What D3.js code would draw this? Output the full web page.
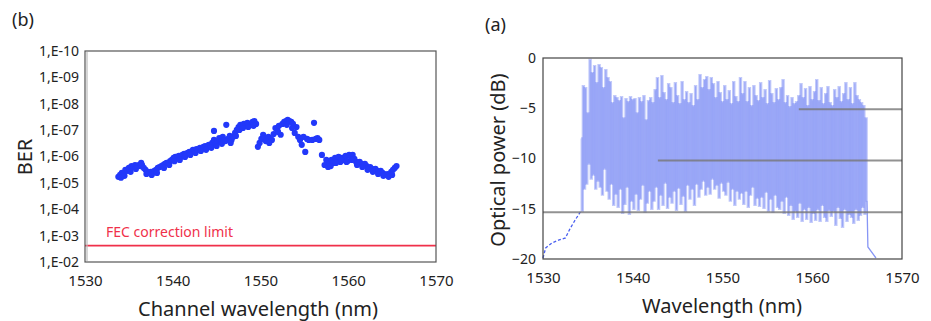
<!DOCTYPE html>
<html>
<head>
<meta charset="utf-8">
<script src="https://cdn.jsdelivr.net/npm/d3@7/dist/d3.min.js"></script>
<style>
  body { margin: 0; background: #fff; }
  text { font-family: "Noto Sans", "DejaVu Sans", sans-serif; fill: #222; }
</style>
</head>
<body>
<div id="chart"></div>
<script>
// ---- data: panel (b), BER vs channel wavelength ----
const wlTicks = [1530, 1540, 1550, 1560, 1570];
const berTicks = [1e-10, 1e-9, 1e-8, 1e-7, 1e-6, 1e-5, 1e-4, 1e-3, 1e-2];
const berTickLabels = ['1,E-10', '1,E-09', '1,E-08', '1,E-07', '1,E-06', '1,E-05', '1,E-04', '1,E-03', '1,E-02'];
const fecLimit = 2.4e-3;

const berPoints = [
  [1533.8, 5.9e-6], [1534.0, 5.0e-6], [1534.2, 4.2e-6], [1534.4, 4.6e-6], [1534.6, 3.2e-6], [1534.8, 3.5e-6],
  [1535.0, 2.7e-6], [1535.1, 3.2e-6], [1535.3, 2.3e-6], [1535.5, 2.5e-6], [1535.7, 2.1e-6], [1535.9, 2.3e-6],
  [1536.1, 2.1e-6], [1536.3, 2.3e-6], [1536.5, 2.1e-6], [1536.7, 2.7e-6], [1536.9, 3.2e-6], [1537.1, 3.8e-6],
  [1537.3, 4.2e-6], [1537.5, 3.8e-6], [1537.7, 4.2e-6], [1537.9, 3.5e-6], [1538.1, 3.2e-6], [1538.3, 2.7e-6],
  [1538.5, 2.5e-6], [1538.7, 2.3e-6], [1538.9, 2.1e-6], [1539.1, 1.9e-6], [1539.3, 1.75e-6], [1539.5, 1.75e-6],
  [1539.7, 1.5e-6], [1539.9, 1.35e-6], [1540.1, 1.13e-6], [1540.3, 1.04e-6], [1540.5, 1.04e-6], [1540.7, 9.5e-7],
  [1540.9, 1.04e-6], [1541.1, 8.7e-7], [1541.3, 7.9e-7], [1541.5, 7.9e-7], [1541.7, 7.3e-7], [1541.9, 6.7e-7],
  [1542.1, 6.7e-7], [1542.3, 5.6e-7], [1542.5, 6.2e-7], [1542.7, 5.2e-7], [1542.9, 5.6e-7], [1543.1, 4.7e-7],
  [1543.3, 5.2e-7], [1543.5, 4.3e-7], [1543.7, 4.0e-7], [1543.9, 4.7e-7], [1544.1, 3.6e-7], [1544.3, 4.0e-7],
  [1544.5, 3.05e-7], [1544.7, 2.35e-7], [1544.7, 1.07e-7], [1544.9, 3.3e-7], [1545.1, 2.6e-7], [1545.3, 2.0e-7],
  [1545.5, 2.8e-7], [1545.7, 1.8e-7], [1545.9, 2.35e-7], [1546.1, 6.3e-8], [1546.3, 2.15e-7], [1546.5, 1.66e-7],
  [1546.7, 2.35e-7], [1546.9, 1.8e-7], [1547.1, 1.28e-7], [1547.3, 9.8e-8], [1547.5, 7.6e-8], [1547.7, 6.3e-8],
  [1547.9, 7.6e-8], [1548.1, 5.8e-8], [1548.3, 6.9e-8], [1548.5, 5.3e-8], [1548.7, 5.8e-8], [1548.9, 6.3e-8],
  [1549.1, 4.9e-8], [1549.3, 4.5e-8], [1549.5, 5.8e-8], [1549.7, 4.3e-7], [1549.9, 3.05e-7], [1550.1, 2.15e-7],
  [1550.3, 1.5e-7], [1550.5, 2.0e-7], [1550.7, 2.35e-7], [1550.9, 1.8e-7], [1551.1, 2.15e-7], [1551.3, 2.35e-7],
  [1551.5, 1.4e-7], [1551.7, 8.3e-8], [1551.9, 9.8e-8], [1552.1, 6.9e-8], [1552.3, 1.5e-7], [1552.5, 5.8e-8],
  [1552.7, 4.9e-8], [1552.9, 4.5e-8], [1553.1, 4.1e-8], [1553.3, 4.5e-8], [1553.5, 4.9e-8], [1553.7, 5.8e-8],
  [1553.9, 1.28e-7], [1554.1, 7.6e-8], [1554.3, 1.8e-7], [1554.5, 2.35e-7], [1554.7, 3.6e-7], [1554.9, 1.8e-7],
  [1555.1, 6.7e-7], [1555.3, 2.15e-7], [1555.5, 2.35e-7], [1555.9, 2.35e-7], [1556.1, 5.3e-8], [1556.3, 2.15e-7],
  [1556.5, 2.0e-7], [1556.7, 2.35e-7], [1557.0, 8.7e-7], [1557.3, 2.1e-6], [1557.5, 1.35e-6], [1557.7, 2.5e-6],
  [1557.9, 1.75e-6], [1558.1, 1.35e-6], [1558.3, 1.75e-6], [1558.5, 1.13e-6], [1558.7, 1.35e-6], [1558.9, 1.04e-6],
  [1559.1, 1.6e-6], [1559.3, 1.13e-6], [1559.5, 1.35e-6], [1559.7, 9.5e-7], [1559.9, 1.5e-6], [1560.1, 8.7e-7],
  [1560.3, 1.04e-6], [1560.5, 8.7e-7], [1560.7, 1.23e-6], [1560.9, 1.6e-6], [1561.1, 1.75e-6], [1561.3, 1.6e-6],
  [1561.5, 1.9e-6], [1561.7, 2.1e-6], [1561.9, 1.9e-6], [1562.1, 2.3e-6], [1562.3, 2.7e-6], [1562.5, 2.5e-6],
  [1562.7, 2.95e-6], [1562.9, 3.2e-6], [1563.1, 2.95e-6], [1563.3, 3.5e-6], [1563.5, 3.8e-6], [1563.7, 3.5e-6],
  [1563.9, 4.2e-6], [1564.1, 4.6e-6], [1564.3, 5.0e-6], [1564.5, 4.6e-6], [1564.7, 5.0e-6], [1564.9, 3.8e-6],
  [1565.1, 3.2e-6], [1565.3, 2.7e-6], [1565.5, 2.3e-6],
  // second row of overlapping channels (lower edge of the cloud)
  [1534.1, 6.4e-6], [1534.5, 5.4e-6], [1535.2, 3.8e-6], [1535.8, 2.95e-6], [1536.4, 1.75e-6], [1537.0, 4.6e-6],
  [1537.6, 5.0e-6], [1538.2, 4.2e-6], [1539.0, 2.7e-6], [1539.6, 2.1e-6], [1540.2, 1.5e-6], [1540.8, 1.35e-6],
  [1541.4, 1.04e-6], [1542.0, 8.7e-7], [1542.6, 7.3e-7], [1543.2, 6.2e-7], [1543.8, 5.6e-7], [1544.4, 4.7e-7],
  [1545.0, 4.0e-7], [1545.6, 3.3e-7], [1546.0, 2.6e-7], [1546.6, 3.05e-7], [1547.2, 1.66e-7], [1547.6, 9.8e-8],
  [1548.0, 8.3e-8], [1548.6, 7.6e-8], [1549.2, 6.9e-8], [1550.6, 2.6e-7], [1551.0, 3.05e-7], [1552.0, 1.17e-7],
  [1553.0, 6.3e-8], [1553.6, 8.3e-8], [1558.0, 2.3e-6], [1558.6, 1.75e-6], [1559.2, 1.35e-6], [1559.8, 1.6e-6],
  [1560.4, 1.35e-6], [1561.0, 2.1e-6], [1561.6, 2.5e-6], [1562.2, 3.2e-6], [1562.8, 3.8e-6], [1563.4, 4.6e-6],
  [1564.0, 5.4e-6], [1564.6, 5.9e-6], [1565.0, 5.0e-6]
];

// ---- data: panel (a), optical spectrum ----
const dbTicks = [0, -5, -10, -15, -20];
const specStart = 1534.25;   // first sampled channel (nm)
const specStep = 0.25;       // sample spacing (nm)
const specPeaks = [
  -8.0, -2.8, -3.0, -5.5, -0.2, -1.5, -0.8, -2.5,
  -0.7, -1.0, -3.0, -1.2, -2.0, -2.4, -4.5, -3.8,
  -4.0, -4.3, -3.9, -6.0, -4.1, -4.4, -3.9, -4.2,
  -4.1, -5.5, -4.0, -4.4, -3.8, -6.2, -4.3, -4.0,
  -4.5, -3.2, -2.0, -4.0, -1.8, -3.5, -4.2, -2.6,
  -3.0, -4.5, -2.5, -3.8, -4.6, -2.4, -4.2, -3.4,
  -4.5, -3.6, -4.8, -2.8, -4.2, -1.7, -3.0, -2.2,
  -1.9, -3.2, -2.0, -2.6, -4.0, -2.4, -3.5, -4.4,
  -2.8, -4.2, -3.3, -4.6, -2.4, -3.9, -4.4, -2.0,
  -3.6, -2.4, -4.4, -3.0, -4.8, -2.8, -3.8, -4.3,
  -2.5, -4.0, -3.2, -4.6, -2.3, -3.6, -4.5, -3.1,
  -4.2, -3.0, -2.2, -4.5, -3.8, -4.9, -4.0, -4.6,
  -4.4, -3.8, -2.6, -4.0, -3.1, -4.8, -2.9, -4.2,
  -3.4, -2.2, -4.3, -3.0, -4.6, -3.6, -2.9, -4.5,
  -4.8, -3.2, -4.0, -2.9, -4.4, -3.6, -2.5, -4.2,
  -3.0, -4.6, -2.5, -3.8, -4.2, -4.5, -4.8, -6.0
];
const specDips = [
  -15.2, -13.0, -12.5, -10.5, -12.0, -11.6, -13.0, -12.2,
  -12.8, -13.6, -11.0, -13.2, -14.0, -12.5, -14.6, -13.5,
  -14.8, -13.0, -15.4, -14.5, -12.8, -15.5, -14.2, -15.0,
  -13.5, -15.1, -14.0, -12.6, -15.3, -14.4, -13.2, -15.0,
  -14.2, -12.8, -15.0, -13.6, -14.6, -12.4, -14.9, -13.8,
  -14.4, -13.2, -15.1, -12.9, -14.5, -13.7, -15.2, -12.6,
  -14.0, -13.0, -14.6, -12.5, -13.8, -13.0, -12.2, -13.6,
  -12.8, -13.5, -12.0, -13.0, -12.6, -13.9, -12.4, -13.2,
  -13.6, -12.3, -14.2, -13.0, -14.6, -13.2, -14.0, -13.4,
  -14.5, -13.2, -14.8, -13.6, -12.8, -14.6, -13.9, -14.7,
  -13.8, -14.9, -13.3, -15.2, -14.0, -15.3, -13.6, -14.8,
  -15.0, -14.2, -15.4, -13.8, -15.6, -14.6, -16.0, -15.2,
  -15.8, -14.4, -16.2, -15.0, -16.0, -14.8, -16.3, -15.4,
  -16.1, -15.0, -16.2, -14.6, -15.8, -16.2, -15.1, -15.7,
  -15.2, -16.6, -14.8, -15.9, -16.8, -15.0, -16.2, -15.5,
  -15.8, -16.4, -15.0, -16.1, -15.6, -14.8, -15.5, -14.2
];
const specTailLeft = [[1530, -19.9], [1530.3, -18.9], [1531, -18.4], [1531.8, -18.1], [1532.5, -17.9],
  [1533, -17.0], [1533.6, -16.1], [1534.1, -15.4], [1534.25, -15.2]];
const specTailRight = [[1566.1, -14.2], [1566.2, -18.8], [1567.1, -19.9]];
const refLines = [
  { db: -5.1, from: 1558.5 },
  { db: -10.2, from: 1542.8 },
  { db: -15.35, from: 1530 }
];

const W = 931, H = 321;
const svg = d3.select('#chart').append('svg')
  .attr('width', W).attr('height', H);

// ================= panel (b) =================
const xL = d3.scaleLinear().domain([1530, 1570]).range([85, 436]);
const yL = d3.scaleLog().domain([1e-2, 1e-10]).range([262, 51]);

svg.append('text').attr('x', 12).attr('y', 26).attr('font-size', 18).text('(b)');

const gL = svg.append('g');

gL.append('g')
  .attr('transform', 'translate(85,0)')
  .call(d3.axisLeft(yL).tickValues(berTicks).tickSize(0).tickPadding(6)
    .tickFormat((d, i) => berTickLabels[i]))
  .call(g => g.select('.domain').remove())
  .call(g => g.selectAll('text').attr('font-size', 14).attr('fill', '#222')
    .style('font-family', '"Noto Sans", sans-serif'));

gL.append('g')
  .attr('transform', 'translate(0,262)')
  .call(d3.axisBottom(xL).tickValues(wlTicks).tickSize(0).tickPadding(13).tickFormat(d3.format('d')))
  .call(g => g.select('.domain').remove())
  .call(g => g.selectAll('text').attr('font-size', 15).attr('fill', '#222')
    .style('font-family', '"Noto Sans", sans-serif'));

// FEC line + label
gL.append('line')
  .attr('x1', xL(1530)).attr('x2', xL(1570))
  .attr('y1', yL(fecLimit)).attr('y2', yL(fecLimit))
  .attr('stroke', '#f0304a').attr('stroke-width', 1.6);
gL.append('text')
  .attr('x', 106).attr('y', 237)
  .attr('font-size', 14).style('fill', '#f0304a')
  .text('FEC correction limit');

// points
gL.append('g').selectAll('circle')
  .data(berPoints)
  .join('circle')
  .attr('cx', d => xL(d[0]))
  .attr('cy', d => yL(d[1]))
  .attr('r', 3.1)
  .attr('fill', '#2238fa');

// frame
gL.append('rect')
  .attr('x', 85).attr('y', 51).attr('width', 351).attr('height', 211)
  .attr('fill', 'none').attr('stroke', '#555').attr('stroke-width', 1.2);
gL.append('line').attr('x1', 87).attr('x2', 87).attr('y1', 52).attr('y2', 261)
  .attr('stroke', '#bbb').attr('stroke-width', 1.2);

svg.append('text')
  .attr('transform', 'translate(32,157) rotate(-90)')
  .attr('text-anchor', 'middle').attr('font-size', 20).text('BER');
svg.append('text')
  .attr('x', 258).attr('y', 316)
  .attr('text-anchor', 'middle').attr('font-size', 20).text('Channel wavelength (nm)');

// ================= panel (a) =================
const xR = d3.scaleLinear().domain([1530, 1570]).range([543, 902]);
const yR = d3.scaleLinear().domain([-20, 0]).range([259, 58]);

svg.append('text').attr('x', 485).attr('y', 31).attr('font-size', 18).text('(a)');

const gR = svg.append('g');

gR.append('g')
  .attr('transform', 'translate(543,0)')
  .call(d3.axisLeft(yR).tickValues(dbTicks).tickSize(0).tickPadding(7).tickFormat(d3.format('d')))
  .call(g => g.select('.domain').remove())
  .call(g => g.selectAll('text').attr('font-size', 14).attr('fill', '#222')
    .style('font-family', '"Noto Sans", sans-serif'));

gR.append('g')
  .attr('transform', 'translate(0,259)')
  .call(d3.axisBottom(xR).tickValues(wlTicks).tickSize(0).tickPadding(13).tickFormat(d3.format('d')))
  .call(g => g.select('.domain').remove())
  .call(g => g.selectAll('text').attr('font-size', 15).attr('fill', '#222')
    .style('font-family', '"Noto Sans", sans-serif'));

// spectrum: alternating peak / dip for each sample, drawn as a step trace
const specPts = [];
specPeaks.forEach((p, i) => {
  const wl = specStart + i * specStep;
  specPts.push([wl, p]);
  specPts.push([wl + specStep / 2, specDips[i]]);
});

const stepLine = d3.line().x(d => xR(d[0])).y(d => yR(d[1])).curve(d3.curveStep);
const plainLine = d3.line().x(d => xR(d[0])).y(d => yR(d[1]));

// each stroke of the trace as its own segment so that overlaps darken
const segs = d3.pairs(specPts);
gR.append('g').selectAll('path')
  .data(segs)
  .join('path')
  .attr('d', d => stepLine(d))
  .attr('fill', 'none')
  .attr('stroke', '#5468f2')
  .attr('stroke-opacity', 0.36)
  .attr('stroke-width', 2.3);

gR.append('path')
  .attr('d', plainLine(specTailLeft))
  .attr('fill', 'none').attr('stroke', '#4a5ff0')
  .attr('stroke-width', 1.3).attr('stroke-dasharray', '3,2');
gR.append('path')
  .attr('d', plainLine(specTailRight))
  .attr('fill', 'none').attr('stroke', '#8796f5')
  .attr('stroke-width', 1.3);

// gray reference lines
gR.append('g').selectAll('line')
  .data(refLines)
  .join('line')
  .attr('x1', d => xR(d.from)).attr('x2', xR(1570))
  .attr('y1', d => yR(d.db)).attr('y2', d => yR(d.db))
  .attr('stroke', '#777').attr('stroke-opacity', 0.8).attr('stroke-width', 2);

gR.append('rect')
  .attr('x', 543).attr('y', 58).attr('width', 359).attr('height', 201)
  .attr('fill', 'none').attr('stroke', '#444').attr('stroke-width', 1.2);

svg.append('text')
  .attr('transform', 'translate(505,160) rotate(-90)')
  .attr('text-anchor', 'middle').attr('font-size', 20).text('Optical power (dB)');
svg.append('text')
  .attr('x', 722).attr('y', 313)
  .attr('text-anchor', 'middle').attr('font-size', 20).text('Wavelength (nm)');
</script>
</body>
</html>
